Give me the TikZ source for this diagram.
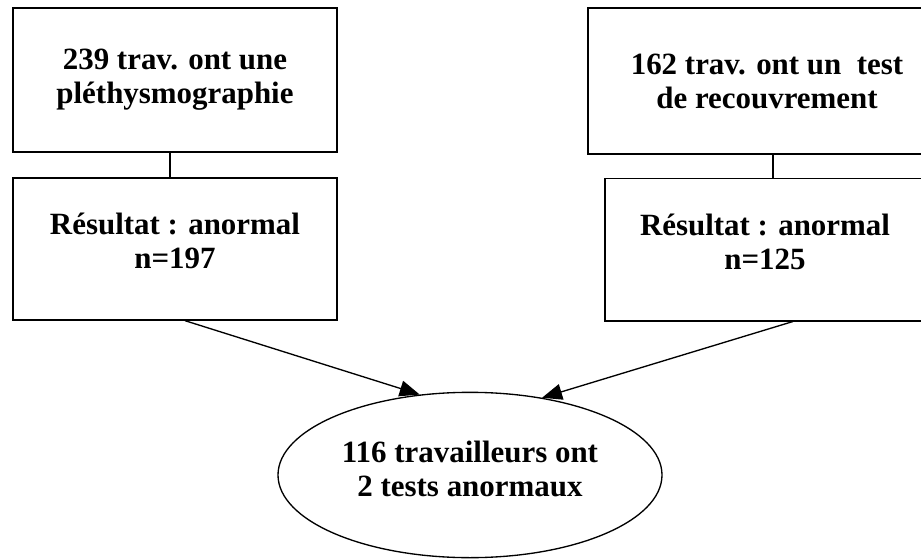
\documentclass[tikz,border=0pt]{standalone}
\usepackage{fontspec}
\setmainfont{Liberation Serif}
\usepackage{tikz}
\usetikzlibrary{arrows.meta,shapes.geometric}

\tikzset{
  boxstyle/.style={draw,line width=1pt,align=center,inner sep=0pt,
    font=\fontsize{23.2}{25.5}\selectfont\bfseries},
  ellstyle/.style={draw,ellipse,line width=1pt,align=center,inner sep=0pt,
    font=\fontsize{23.2}{25.5}\selectfont\bfseries},
  arr/.style={line width=1pt,-{Triangle[length=15pt,width=12pt]}}
}

\begin{document}
\begin{tikzpicture}[x=0.75pt,y=0.75pt,yscale=-1,xscale=1]
\clip (0,0) rectangle (921,560);

% Boxes
\node [boxstyle,minimum width=243pt,minimum height=108pt] (plethy) at (175,80) {239 trav. ont une\\pléthysmographie};
\node [boxstyle,minimum width=243pt,minimum height=106.5pt,text depth=12pt] (resA) at (175,249) {Résultat : anormal\\n=197};
\node [boxstyle,minimum width=268.5pt,minimum height=109.5pt] (recouv) at (767,81) {162 trav. ont un\ \ test\\de recouvrement};
\node [boxstyle,minimum width=240pt,minimum height=107pt,text depth=12pt] (resB) at (765,249.5) {Résultat : anormal\\n=125};

% Ellipse
\node [ellstyle,minimum width=288pt,minimum height=124pt,text depth=9pt] (both) at (470,475) {116 travailleurs ont\\2 tests anormaux};

% Connectors
\draw [line width=1pt] ([xshift=-3.75pt]plethy.south) -- ([xshift=-3.75pt]plethy.south |- resA.north);
\draw [line width=1pt] ([xshift=4.5pt]recouv.south) -- ([xshift=4.5pt]recouv.south |- resB.north);
\draw [arr] ([xshift=7.5pt]resA.south) -- (both.122);
\draw [arr] ([xshift=21pt]resB.south) -- (both.47);

\end{tikzpicture}
\end{document}
